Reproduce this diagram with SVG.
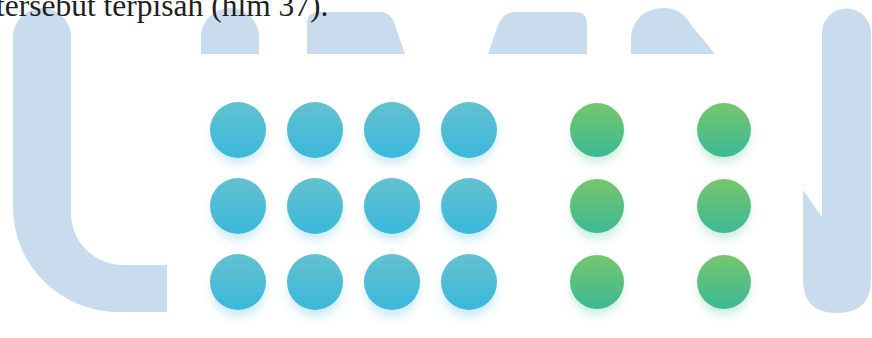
<svg xmlns="http://www.w3.org/2000/svg" width="872" height="338" viewBox="0 0 872 338">
  <style>
    .wm { fill: #c9dced; }
    .caption { font-family: "Liberation Serif", "Times New Roman", serif; font-size: 31.5px; fill: #231f20; }
    .blue { fill: url(#gBlue); }
    .green { fill: url(#gGreen); }
    .shB { fill: #8fd3e8; opacity: 0.45; filter: url(#blur); }
    .shG { fill: #8fd8b8; opacity: 0.45; filter: url(#blur); }
  </style>
  <defs>
    <linearGradient id="gBlue" x1="0" y1="0" x2="0" y2="1">
      <stop offset="0" stop-color="#63c1cf"/>
      <stop offset="1" stop-color="#3ab8dc"/>
    </linearGradient>
    <linearGradient id="gGreen" x1="0" y1="0" x2="0" y2="1">
      <stop offset="0" stop-color="#76c66a"/>
      <stop offset="1" stop-color="#3cb997"/>
    </linearGradient>
    <filter id="blur" x="-50%" y="-50%" width="200%" height="200%">
      <feGaussianBlur stdDeviation="5"/>
    </filter>
  </defs>
  <rect width="872" height="338" fill="#ffffff"/>

  <!-- watermark shapes -->
  <g id="watermark">
    <path class="wm" d="M13,37 A29,29 0 0 1 71,37 L71,213 A52,52 0 0 0 123,265 L167,265 L167,312 L118,312 A105,105 0 0 1 13,207 Z"/>
    <path class="wm" d="M201,54 L201,37 A29,29 0 0 1 259,37 L259,54 Z"/>
    <path class="wm" d="M307,54 L307,24 Q307,12 319,12 L380,12 Q392,12 396,28 L405,54 Z"/>
    <path class="wm" d="M488,54 L497,28 Q502,12 516,12 L575,12 Q587,12 587,24 L587,54 Z"/>
    <path class="wm" d="M631,54 L631,40 C631,20 645,8 664,8 C678,8 686,16 692,26 L715,54 Z"/>
    <path class="wm" d="M822,33 A24.5,24.5 0 0 1 871,33 L871,280 Q871,313 837,313 Q803,313 803,280 L803,190 L822,217 Z"/>
  </g>

  <text class="caption" x="-4" y="16">tersebut terpisah (hlm 37).</text>

  <!-- blue dots -->
  <g id="blue-dots">
    <g id="b11"><circle class="shB" cx="238" cy="137" r="27"/><circle class="blue" cx="238" cy="130" r="28"/></g>
    <g id="b12"><circle class="shB" cx="315" cy="137" r="27"/><circle class="blue" cx="315" cy="130" r="28"/></g>
    <g id="b13"><circle class="shB" cx="392" cy="137" r="27"/><circle class="blue" cx="392" cy="130" r="28"/></g>
    <g id="b14"><circle class="shB" cx="469" cy="137" r="27"/><circle class="blue" cx="469" cy="130" r="28"/></g>
    <g id="b21"><circle class="shB" cx="238" cy="213" r="27"/><circle class="blue" cx="238" cy="206" r="28"/></g>
    <g id="b22"><circle class="shB" cx="315" cy="213" r="27"/><circle class="blue" cx="315" cy="206" r="28"/></g>
    <g id="b23"><circle class="shB" cx="392" cy="213" r="27"/><circle class="blue" cx="392" cy="206" r="28"/></g>
    <g id="b24"><circle class="shB" cx="469" cy="213" r="27"/><circle class="blue" cx="469" cy="206" r="28"/></g>
    <g id="b31"><circle class="shB" cx="238" cy="290" r="27"/><circle class="blue" cx="238" cy="282" r="28"/></g>
    <g id="b32"><circle class="shB" cx="315" cy="290" r="27"/><circle class="blue" cx="315" cy="282" r="28"/></g>
    <g id="b33"><circle class="shB" cx="392" cy="290" r="27"/><circle class="blue" cx="392" cy="282" r="28"/></g>
    <g id="b34"><circle class="shB" cx="469" cy="290" r="27"/><circle class="blue" cx="469" cy="282" r="28"/></g>
  </g>

  <!-- green dots -->
  <g id="green-dots">
    <g id="g11"><circle class="shG" cx="597" cy="137" r="26"/><circle class="green" cx="597" cy="130" r="27"/></g>
    <g id="g12"><circle class="shG" cx="724" cy="137" r="26"/><circle class="green" cx="724" cy="130" r="27"/></g>
    <g id="g21"><circle class="shG" cx="597" cy="213" r="26"/><circle class="green" cx="597" cy="206" r="27"/></g>
    <g id="g22"><circle class="shG" cx="724" cy="213" r="26"/><circle class="green" cx="724" cy="206" r="27"/></g>
    <g id="g31"><circle class="shG" cx="597" cy="289" r="26"/><circle class="green" cx="597" cy="282" r="27"/></g>
    <g id="g32"><circle class="shG" cx="724" cy="289" r="26"/><circle class="green" cx="724" cy="282" r="27"/></g>
  </g>
</svg>
